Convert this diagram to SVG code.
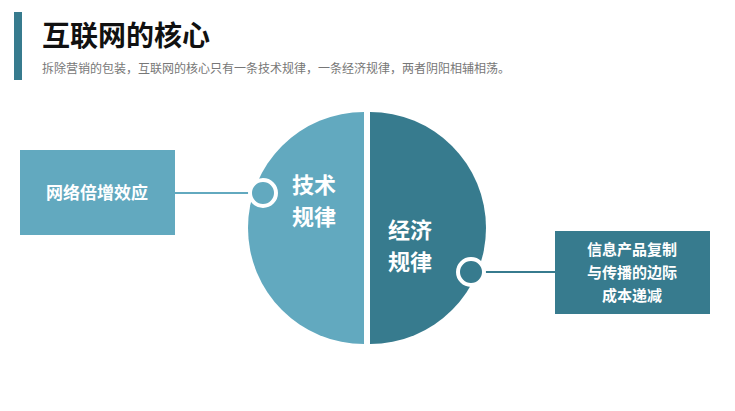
<svg xmlns="http://www.w3.org/2000/svg" width="735" height="411" viewBox="0 0 735 411">
<style>
text{font-family:"Noto Sans CJK SC","Liberation Sans",sans-serif}
.w{fill:#fff;font-weight:bold}
.light{fill:#62a9bf}.dark{fill:#377b8e}
.dot{stroke:#fff;stroke-width:4}
</style>
<rect width="735" height="411" fill="#fff"/>
<rect x="14" y="12" width="8" height="68" fill="#377b8e"/>
<text x="42" y="46" font-size="28" font-weight="bold" fill="#111">互联网的核心</text>
<text x="42" y="73" font-size="12" fill="#777">拆除营销的包装，互联网的核心只有一条技术规律，一条经济规律，两者阴阳相辅相荡。</text>
<g id="connectors" stroke-width="2">
<line x1="175" y1="193" x2="252" y2="193" stroke="#62a9bf"/>
<line x1="482" y1="272" x2="555" y2="272" stroke="#377b8e"/>
</g>
<g id="tech">
<path class="light" d="M364,112 A116,116 0 0 0 364,344 Z"/>
<text class="w" font-size="22" x="314" y="193" text-anchor="middle">技术</text>
<text class="w" font-size="22" x="314" y="225" text-anchor="middle">规律</text>
<circle class="light dot" cx="263" cy="193" r="13"/>
</g>
<g id="econ">
<path class="dark" d="M370,112 A116,116 0 0 1 370,344 Z"/>
<text class="w" font-size="22" x="410" y="238" text-anchor="middle">经济</text>
<text class="w" font-size="22" x="410" y="270" text-anchor="middle">规律</text>
<circle class="dark dot" cx="471" cy="272" r="13"/>
</g>
<g id="left-box">
<rect class="light" x="20" y="150" width="155" height="85"/>
<text class="w" font-size="17" x="97" y="199" text-anchor="middle">网络倍增效应</text>
</g>
<g id="right-box">
<rect class="dark" x="555" y="231" width="155" height="83"/>
<text class="w" font-size="15" x="632" y="255" text-anchor="middle">信息产品复制</text>
<text class="w" font-size="15" x="632" y="278" text-anchor="middle">与传播的边际</text>
<text class="w" font-size="15" x="632" y="301" text-anchor="middle">成本递减</text>
</g>
</svg>
